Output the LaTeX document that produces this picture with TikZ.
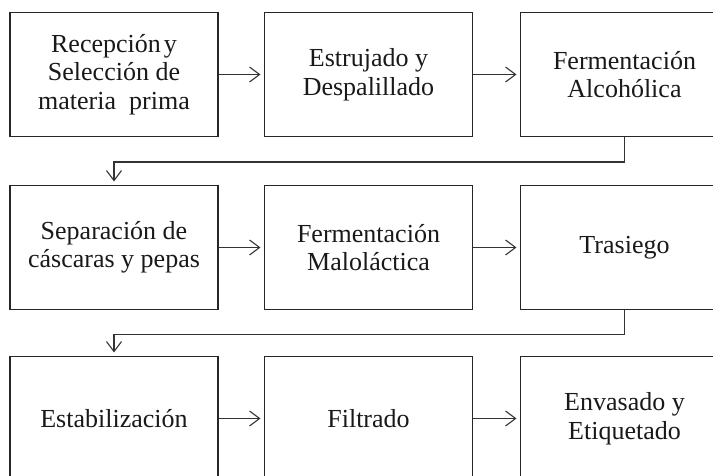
\documentclass[tikz,border=0pt]{standalone}
\usepackage{fontspec}
\setmainfont{Liberation Serif}
\usetikzlibrary{arrows.meta}
\begin{document}
\begin{tikzpicture}[x=1pt,y=-1pt,
  stepbox/.style={draw=black!85,line width=1.1pt,rectangle,inner sep=0pt,
    minimum width=208pt,minimum height=124pt,align=center,
    font=\fontsize{26}{28.5}\selectfont,text=black!90},
  flow/.style={draw=black!80,line width=1.1pt,shorten >=3.5pt,
    -{Straight Barb[length=10pt,width=15pt,line width=1.1pt]}}]
\useasboundingbox (0,0) rectangle (713,476);
\clip (0,0) rectangle (713,476);
\fill[white] (0,0) rectangle (713,476);
% row 1
\node[stepbox] (a1) at (114,74.5) {Recepción\hspace{3pt}y\\Selección de\\materia\ \ prima};
\node[stepbox] (a2) at (368.5,74.5) {Estrujado y\\Despalillado};
\node[stepbox] (a3) at (624.5,74.5) {Fermentación\\Alcohólica};
% row 2
\node[stepbox] (b1) at (114,247.5) {Separación de\\cáscaras y pepas};
\node[stepbox] (b2) at (368.5,247.5) {Fermentación\\Maloláctica};
\node[stepbox] (b3) at (624.5,247.5) {Trasiego};
% row 3
\node[stepbox] (c1) at (114,418.5) {Estabilización};
\node[stepbox] (c2) at (368.5,418.5) {Filtrado};
\node[stepbox] (c3) at (624.5,418.5) {Envasado y\\Etiquetado};
% connectors
\draw[flow] (a1.east) -- (a2.west);
\draw[flow] (a2.east) -- (a3.west);
\draw[flow] (a3.south) -- ++(0,25) -| (b1.north);
\draw[flow] (b1.east) -- (b2.west);
\draw[flow] (b2.east) -- (b3.west);
\draw[flow] (b3.south) -- ++(0,24) -| (c1.north);
\draw[flow] (c1.east) -- (c2.west);
\draw[flow] (c2.east) -- (c3.west);
\end{tikzpicture}
\end{document}
